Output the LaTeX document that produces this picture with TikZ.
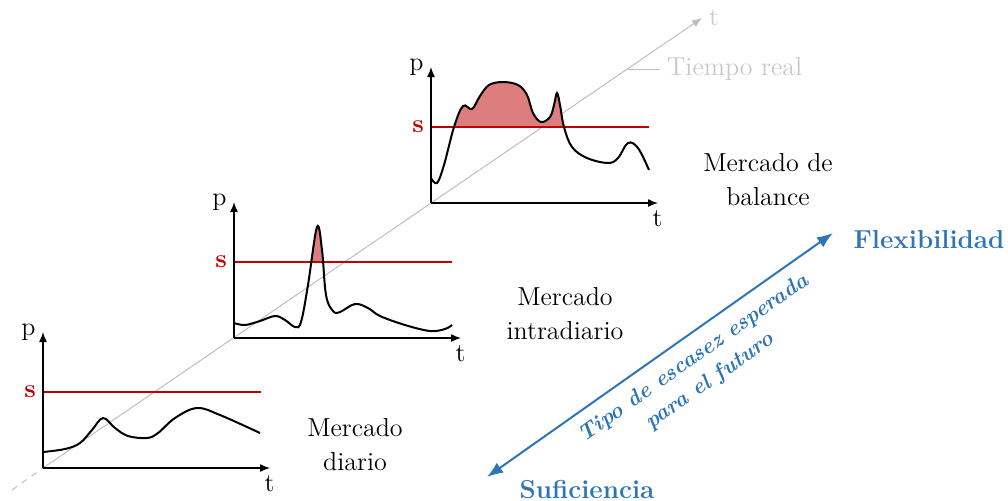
\documentclass[tikz,border=0pt]{standalone}
\usetikzlibrary{positioning,arrows.meta}

\definecolor{rojo}{RGB}{192,0,0}
\definecolor{relleno}{RGB}{222,125,125}
\definecolor{azul}{RGB}{46,117,182}
\definecolor{gris}{RGB}{190,190,190}
\definecolor{grist}{RGB}{200,200,200}

% Curvas de precio
\newcommand{\curvadiario}{(43,452) (65,449) (80,443) (92,430) (103,418) (115,428) (128,436) (147,438) (158,433) (175,418) (197,408) (220,415) (260,433)}
\newcommand{\curvaintra}{(234,323) (245,325) (260,321) (275,316) (285,320) (295,327) (301,322) (308,285) (317,227) (322,250) (326,295) (333,311) (340,312) (355,304) (368,308) (380,316) (405,325) (430,331) (445,329) (452,325)}
\newcommand{\curvabalance}{(431,178) (437,183) (444,165) (454,127) (463,106) (472,109) (480,96) (489,85) (503,82) (518,85) (527,95) (533,113) (541,122) (550,117) (554,105) (557,93) (560,105) (564,127) (572,147) (587,158) (608,163) (618,158) (628,143) (638,148) (649,170)}

\begin{document}
\begin{tikzpicture}[x=0.5pt,y=-0.5pt,>={Latex[length=5pt,width=4pt]},
    font=\fontsize{13}{17}\selectfont,
    eje/.style={->,line width=0.7pt},
    curva/.style={line width=1pt},
    umbral/.style={rojo,line width=0.8pt},
    texto/.style={align=center}]
    \useasboundingbox (0,0) rectangle (1008,500);

    % Eje del tiempo real
    \coordinate (t0) at (12,490);
    \coordinate (t1) at (43,468);
    \coordinate (t2) at (702,18);
    \draw[gris,dashed,line width=0.5pt] (t0) -- (t1);
    \draw[gris,->,line width=0.5pt] (t1) -- (t2) node[right,grist] (tr) {t};
    \coordinate (m0) at (628,69);
    \node[grist,right] (real) at (660,69) {Tiempo real};
    \draw[gris,line width=0.5pt] (m0) -- (real.west);

    % Zonas de escasez
    \begin{scope}
        \clip (234,150) rectangle (460,261);
        \fill[relleno] plot[smooth,tension=0.6] coordinates {\curvaintra} -- (452,338) -- (234,338) -- cycle;
    \end{scope}
    \begin{scope}
        \clip (431,20) rectangle (660,127);
        \fill[relleno] plot[smooth,tension=0.6] coordinates {\curvabalance} -- (649,203) -- (431,203) -- cycle;
    \end{scope}

    % Ejes
    \foreach \x/\y/\n in {43/468/d, 234/338/i, 431/203/b} {
        \draw[umbral] (\x,\y-76) -- ++(218,0);
        \node[rojo,left,font=\fontsize{13}{17}\selectfont\bfseries] (s\n) at (\x,\y-76) {s};
        \draw[eje] (\x,\y) -- ++(227,0) node[below left=0pt and -6pt] (t\n) {t};
        \draw[eje] (\x,\y) -- ++(0,-136) node[left] (p\n) {p};
    }

    % Precios
    \draw[curva] plot[smooth,tension=0.6] coordinates {\curvadiario};
    \draw[curva] plot[smooth,tension=0.6] coordinates {\curvaintra};
    \draw[curva] plot[smooth,tension=0.6] coordinates {\curvabalance};

    % Mercados
    \node[texto] (diario) at (355,445) {Mercado\\diario};
    \node[texto] (intra) at (565,314) {Mercado\\intradiario};
    \node[texto] (balance) at (768,180) {Mercado de\\balance};

    % Tipo de escasez
    \node[azul,font=\fontsize{13}{17}\selectfont\bfseries] (flex) at (929,240) {Flexibilidad};
    \node[azul,font=\fontsize{13}{17}\selectfont\bfseries] (suf) at (587,490) {Suficiencia};
    \coordinate (a1) at (487,477);
    \coordinate (a2) at (833,233);
    \draw[azul,{Latex[length=8pt,width=6pt]}-{Latex[length=8pt,width=6pt]},line width=1pt] (a1) -- (a2);
    \node[azul,texto,rotate=35.2,font=\fontsize{11}{14}\selectfont\bfseries\itshape] (tipo) at (702,370) {Tipo de escasez esperada\\para el futuro};
\end{tikzpicture}
\end{document}
